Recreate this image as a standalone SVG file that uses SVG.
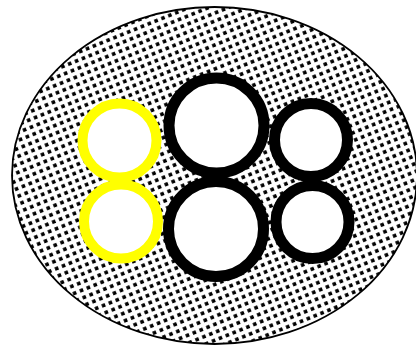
<svg xmlns="http://www.w3.org/2000/svg" width="416" height="349" viewBox="0 0 416 349">
<defs>
<pattern id="dots" width="7.4" height="7.4" patternUnits="userSpaceOnUse" patternTransform="rotate(-22)">
<rect width="7.4" height="7.4" fill="#fff"/>
<rect x="2" y="2" width="3.6" height="3.6" fill="#000"/>
</pattern>
</defs>
<style>
.yel{fill:#fff;stroke:#ffff00;stroke-width:10}
.blk{fill:#fff;stroke:#000;stroke-width:11}
</style>
<g id="body"><ellipse cx="214.5" cy="175.5" rx="202.5" ry="168.5" fill="url(#dots)" stroke="#000" stroke-width="1.8"/></g>
<g id="connectors"></g>
<g id="y1"><circle class="yel" cx="119.5" cy="140.5" r="37"/></g>
<g id="y2"><circle class="yel" cx="121" cy="221.5" r="37"/></g>
<g id="b1"><circle class="blk" cx="216.5" cy="125.5" r="47.5"/></g>
<g id="b2"><circle class="blk" cx="216" cy="229" r="47.5"/></g>
<g id="s1"><circle class="blk" cx="311" cy="140" r="36.5"/></g>
<g id="s2"><circle class="blk" cx="312.5" cy="222" r="36.5"/></g>
</svg>
